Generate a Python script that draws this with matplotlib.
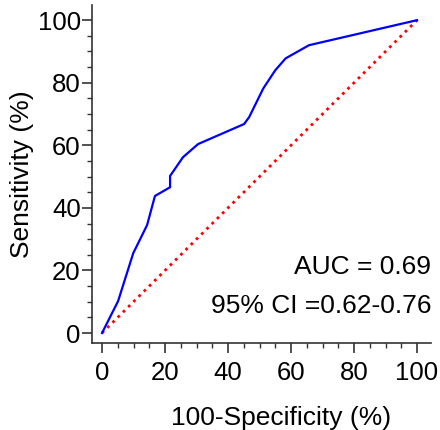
import numpy as np
import matplotlib.pyplot as plt
from matplotlib.ticker import MultipleLocator

plt.rcParams['font.family'] = ['Liberation Sans', 'DejaVu Sans']

# ROC curve points (100-specificity, sensitivity)
fpr = [0, 5.1, 9.9, 14.3, 16.8, 21.6, 21.6, 25.7, 30.5, 45.1, 46.7, 51.2, 55.0, 58.3, 65.7, 100]
tpr = [0, 10.2, 25.5, 34.5, 43.8, 46.6, 50.2, 56.2, 60.4, 66.8, 69.0, 78.2, 84.0, 87.8, 92.0, 100]
auc_text = "AUC = 0.69"
ci_text = "95% CI =0.62-0.76"
ticks = [0, 20, 40, 60, 80, 100]

fig = plt.figure(figsize=(4.4, 4.3), dpi=100)
ax = fig.add_axes([0.209, 0.2023, 0.771, 0.7857])

ax.plot([0, 100], [0, 100], color='red', linestyle=':', linewidth=2)
ax.plot(fpr, tpr, color='blue', linewidth=1.6)

ax.set_xlim(-3.2, 104.5)
ax.set_ylim(-3.2, 104.8)
ax.set_xticks(ticks)
ax.set_yticks(ticks)
ax.xaxis.set_minor_locator(MultipleLocator(5))
ax.yaxis.set_minor_locator(MultipleLocator(5))

for s in ['top', 'right']:
    ax.spines[s].set_visible(False)
for s in ['left', 'bottom']:
    ax.spines[s].set_color('#333333')
    ax.spines[s].set_linewidth(1.2)

ax.tick_params(which='major', length=7, width=1.2, color='#333333', labelsize=18.5)
ax.tick_params(which='minor', length=3.6, width=1, color='#333333')
ax.tick_params(axis='y', which='major', pad=1)
ax.tick_params(axis='x', which='major', pad=6)

ax.set_xlabel("100-Specificity (%)", fontsize=19, labelpad=15, x=0.556)
ax.set_ylabel("Sensitivity (%)", fontsize=19, labelpad=3)

ax.text(104.5, 21, auc_text, ha='right', va='center', fontsize=19)
ax.text(104.5, 8.5, ci_text, ha='right', va='center', fontsize=19)

fig.savefig('out.png', dpi=100)
